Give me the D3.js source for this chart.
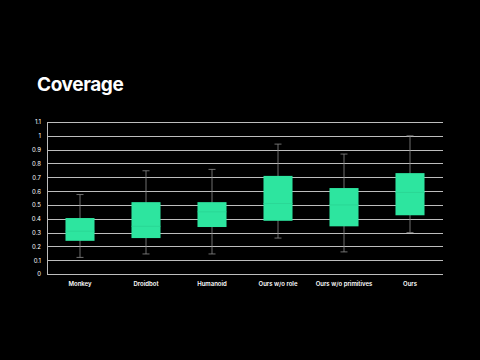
<!DOCTYPE html>
<html>
<head>
<meta charset="utf-8">
<script src="https://cdn.jsdelivr.net/npm/d3@7"></script>
<style>
	body { margin: 0; background: #000; }
	svg { display: block; }
</style>
</head>
<body>
<div id="idContent"></div>
<script>
var aCategories = ["Monkey", "Droidbot", "Humanoid", "Ours w/o role", "Ours w/o primitives", "Ours"];
var aWhiskerLow = [0.12, 0.145, 0.145, 0.26, 0.16, 0.30];
var aQ1 = [0.24, 0.26, 0.34, 0.385, 0.345, 0.425];
var aMedian = [0.31, 0.345, 0.45, 0.51, 0.50, 0.59];
var aQ3 = [0.405, 0.52, 0.52, 0.71, 0.622, 0.73];
var aWhiskerHigh = [0.575, 0.747, 0.757, 0.94, 0.868, 1.0];
var aTicks = [0, 0.1, 0.2, 0.3, 0.4, 0.5, 0.6, 0.7, 0.8, 0.9, 1, 1.1];

var width = 480, height = 360;
var margin = { top: 122, right: 37, bottom: 86, left: 47 };
var plotW = width - margin.left - margin.right,
	plotH = height - margin.top - margin.bottom;

var oSvg = d3.select("#idContent").append("svg")
	.attr("width", width)
	.attr("height", height)
	.style("background", "#000");

oSvg.append("text")
	.attr("x", 37)
	.attr("y", 91)
	.attr("fill", "#fff")
	.attr("font-family", "Inter, 'Noto Sans', sans-serif")
	.attr("font-weight", 700)
	.attr("font-size", 19)
	.attr("letter-spacing", -0.4)
	.text("Coverage");

var oChart = oSvg.append("g")
	.attr("transform", "translate(" + margin.left + "," + margin.top + ")");

var x = d3.scaleBand().domain(aCategories).range([0, plotW]);
var y = d3.scaleLinear().domain([0, 1.1]).range([plotH, 0]);

// gridlines
oChart.append("g")
	.selectAll("line")
	.data(aTicks)
	.enter().append("line")
	.attr("x1", 0)
	.attr("x2", plotW)
	.attr("y1", function (d) { return Math.round(y(d)) + 0.5; })
	.attr("y2", function (d) { return Math.round(y(d)) + 0.5; })
	.attr("stroke", "#bdbdbd")
	.attr("stroke-width", 1);

// y axis
var yAxis = oChart.append("g")
	.call(d3.axisLeft(y).tickValues(aTicks).tickSize(0).tickPadding(6).tickFormat(d3.format("~g")));
yAxis.select(".domain").attr("stroke", "#bdbdbd");
yAxis.selectAll("text")
	.attr("fill", "#fff")
	.attr("font-family", "Inter, 'Noto Sans', sans-serif")
	.attr("font-size", 6);

// x axis labels
var xAxis = oChart.append("g")
	.attr("transform", "translate(0," + plotH + ")")
	.call(d3.axisBottom(x).tickSize(0).tickPadding(8));
xAxis.select(".domain").remove();
xAxis.selectAll("text")
	.attr("fill", "#fff")
	.attr("font-family", "Inter, 'Noto Sans', sans-serif")
	.attr("font-weight", 600)
	.attr("font-size", 6);

var boxW = x.bandwidth() * 0.44;
var capW = 7;

var oBoxes = oChart.selectAll(".box")
	.data(aCategories)
	.enter().append("g")
	.attr("class", "box")
	.attr("transform", function (d) { return "translate(" + (x(d) + x.bandwidth() / 2) + ",0)"; });

oBoxes.append("line")
	.attr("x1", 0).attr("x2", 0)
	.attr("y1", function (d, i) { return y(aWhiskerLow[i]); })
	.attr("y2", function (d, i) { return y(aWhiskerHigh[i]); })
	.attr("stroke", "#8a8a8a")
	.attr("stroke-width", 0.8);

oBoxes.append("line")
	.attr("x1", -capW / 2).attr("x2", capW / 2)
	.attr("y1", function (d, i) { return y(aWhiskerLow[i]); })
	.attr("y2", function (d, i) { return y(aWhiskerLow[i]); })
	.attr("stroke", "#8a8a8a")
	.attr("stroke-width", 0.8);

oBoxes.append("line")
	.attr("x1", -capW / 2).attr("x2", capW / 2)
	.attr("y1", function (d, i) { return y(aWhiskerHigh[i]); })
	.attr("y2", function (d, i) { return y(aWhiskerHigh[i]); })
	.attr("stroke", "#8a8a8a")
	.attr("stroke-width", 0.8);

oBoxes.append("rect")
	.attr("x", -boxW / 2)
	.attr("width", boxW)
	.attr("y", function (d, i) { return y(aQ3[i]); })
	.attr("height", function (d, i) { return y(aQ1[i]) - y(aQ3[i]); })
	.attr("fill", "#2de59f");

oBoxes.append("line")
	.attr("x1", -boxW / 2).attr("x2", boxW / 2)
	.attr("y1", function (d, i) { return y(aMedian[i]); })
	.attr("y2", function (d, i) { return y(aMedian[i]); })
	.attr("stroke", "#29d493")
	.attr("stroke-width", 0.8);
</script>
</body>
</html>
